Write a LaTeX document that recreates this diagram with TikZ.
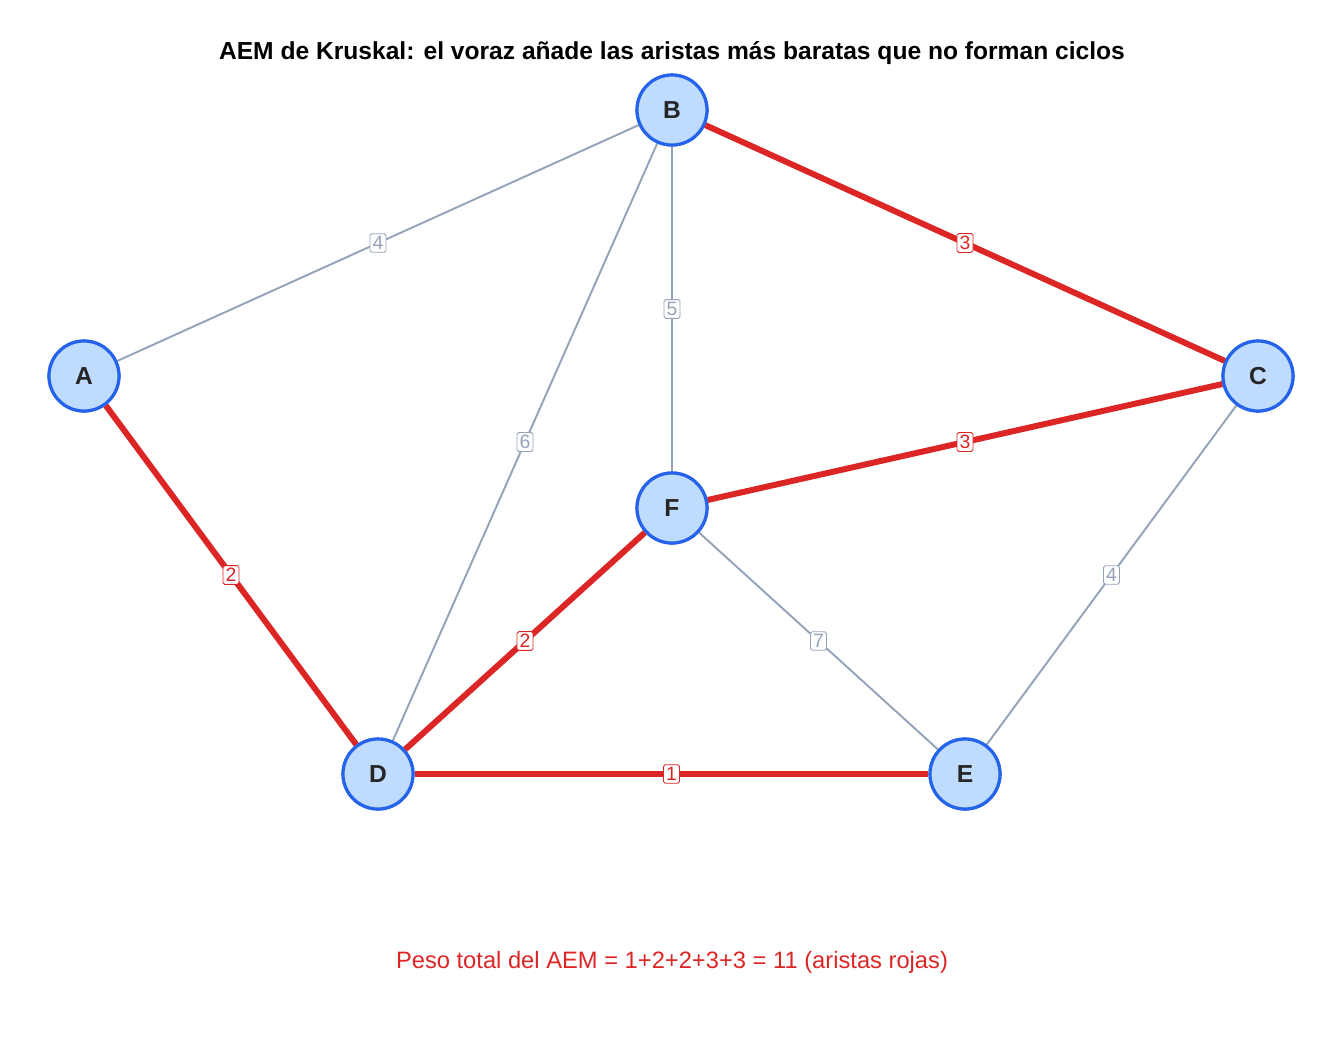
\documentclass[tikz,border=0pt]{standalone}
\usepackage{fontspec}
\setmainfont{Liberation Sans}
\definecolor{nodeFill}{HTML}{BFDBFE}
\definecolor{nodeDraw}{HTML}{2563EB}
\definecolor{greyEdge}{HTML}{94A3B8}
\definecolor{mstRed}{HTML}{DC2626}
\begin{document}
\begin{tikzpicture}[x=0.02cm,y=-0.02cm,
    vertex/.style={circle,fill=nodeFill,draw=nodeDraw,line width=1.8pt,minimum size=1.4cm,inner sep=0pt,font=\fontsize{14}{14}\selectfont\bfseries,text=black!85},
    plain/.style={draw=greyEdge,line width=1.1pt},
    tree/.style={draw=mstRed,line width=3.4pt},
    wlabel/.style={fill=white,draw,rounded corners=1pt,inner sep=1.5pt,line width=0.5pt,font=\fontsize{11}{11}\selectfont}]

  \useasboundingbox (0,0) rectangle (1344,1056);

  % vertices
  \node[vertex] (A) at (84,376) {A};
  \node[vertex] (B) at (672,110) {B};
  \node[vertex] (C) at (1258,376) {C};
  \node[vertex] (D) at (378,774) {D};
  \node[vertex] (E) at (965,774) {E};
  \node[vertex] (F) at (672,508) {F};

  % grey edges
  \begin{scope}[on background layer/.style={}]
  \foreach \u/\v/\w in {A/B/4,B/D/6,B/F/5,F/E/7,C/E/4}
    \path[plain] (\u) -- node[wlabel,draw=greyEdge,text=greyEdge] {\w} (\v);

  % tree edges
  \foreach \u/\v/\w in {B/C/3,F/C/3,A/D/2,D/F/2,D/E/1}
    \path[tree] (\u) -- node[wlabel,draw=mstRed,text=mstRed] {\w} (\v);
  \end{scope}

  % redraw vertices on top
  \foreach \n/\p in {A/{84,376},B/{672,110},C/{1258,376},D/{378,774},E/{965,774},F/{672,508}}
    \node[vertex] at (\p) {\n};

  \node[font=\fontsize{14}{14}\selectfont\bfseries] (title) at (672,53)
    {AEM de Kruskal: el voraz añade las aristas más baratas que no forman ciclos};
  \node[font=\fontsize{13.5}{13.5}\selectfont,text=mstRed] (total) at (672,962)
    {Peso total del AEM = 1+2+2+3+3 = 11 (aristas rojas)};
\end{tikzpicture}
\end{document}
